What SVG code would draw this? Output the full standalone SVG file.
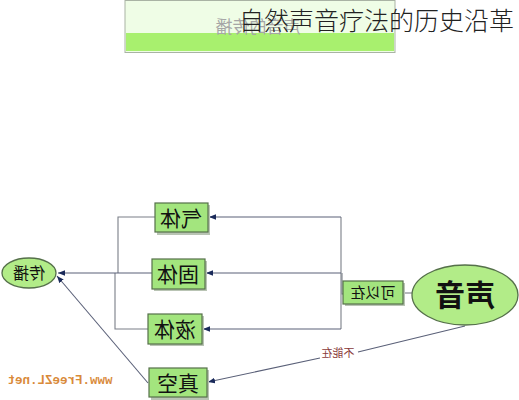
<svg xmlns="http://www.w3.org/2000/svg" width="519" height="400" viewBox="0 0 519 400">
<defs>
<marker id="arr" viewBox="0 0 10 10" refX="10" refY="5" markerWidth="7" markerHeight="7" orient="auto-start-reverse" markerUnits="userSpaceOnUse">
<path d="M0,1 L10,5 L0,9 z" fill="#1a2a5a"/>
</marker>
<style>
.box{fill:#a3e57e;stroke:#55704a;stroke-width:1.2}
.shadow{fill:#b9c4b4}
.ell{fill:#b2ec88;stroke:#55704a;stroke-width:1.3}
.lbl{font-family:"Noto Sans CJK SC","Noto Sans",sans-serif;fill:#111;text-anchor:middle}
.ln{stroke:#7a7f88;stroke-width:1.1;fill:none}
.ar{stroke:#5a6078;stroke-width:1.1;fill:none;marker-end:url(#arr)}
</style>
</defs>
<rect width="519" height="400" fill="#ffffff"/>
<g id="banner">
<rect x="125" y="0.5" width="270" height="52" fill="#effde6" stroke="#a9b3a4" stroke-width="1"/>
<rect x="126" y="33" width="268" height="18" fill="#a8f06e"/>
<text class="lbl" x="258" y="33" font-size="17" style="fill:#a6a6a6" transform="matrix(-1 0 0 1 516 0)">声音的传播</text>
</g>
<g id="title">
<text x="239" y="30" font-family="'Noto Sans CJK SC','Noto Sans',sans-serif" font-size="25" font-weight="300" fill="#222">自然声音疗法的历史沿革</text>
</g>
<g id="connectors">
<path class="ln" d="M341,217 V329"/>
<path class="ar" d="M341,217 H209"/>
<path class="ar" d="M341,273 H206"/>
<path class="ar" d="M341,329 H203"/>
<path class="ln" d="M342,273 V294 H343"/>
<path class="ln" d="M403,293 H413"/>
<path class="ln" d="M155,217 H118 V273"/>
<path class="ln" d="M148,329 H115 V273"/>
<path class="ar" d="M152,273 H58"/>
<path class="ar" d="M148,383 L57,276"/>
<path class="ar" d="M465,326 L358,352 M320,358 L208,382"/>
<text x="338" y="357" font-family="'Noto Sans CJK SC',sans-serif" font-size="11" fill="#8a3a3a" text-anchor="middle" transform="matrix(-1 0 0 1 676 0)">不能在</text>
</g>
<g id="n-qiti">
<rect class="shadow" x="157" y="205" width="53" height="30"/>
<rect class="box" x="155" y="203" width="53" height="29"/>
<text class="lbl" x="181" y="226" font-size="21" transform="matrix(-1 0 0 1 362 0)">气体</text>
</g>
<g id="n-guti">
<rect class="shadow" x="154" y="261" width="53" height="30"/>
<rect class="box" x="152" y="259" width="53" height="30"/>
<text class="lbl" x="178" y="282" font-size="21" transform="matrix(-1 0 0 1 356 0)">固体</text>
</g>
<g id="n-yeti">
<rect class="shadow" x="150" y="316" width="54" height="30"/>
<rect class="box" x="148" y="314" width="54" height="30"/>
<text class="lbl" x="175" y="337" font-size="21" transform="matrix(-1 0 0 1 350 0)">液体</text>
</g>
<g id="n-zhenkong">
<rect class="shadow" x="151" y="370" width="58" height="30"/>
<rect class="box" x="149" y="368" width="58" height="29"/>
<text class="lbl" x="178" y="391" font-size="21" transform="matrix(-1 0 0 1 356 0)">真空</text>
</g>
<g id="n-chuanbo">
<ellipse class="ell" cx="29" cy="273" rx="27" ry="15"/>
<text class="lbl" x="29" y="279" font-size="16" transform="matrix(-1 0 0 1 58 0)">传播</text>
</g>
<g id="n-keyizai">
<rect class="shadow" x="345" y="283" width="60" height="23"/>
<rect class="box" x="343" y="281" width="60" height="23"/>
<text class="lbl" x="373" y="298" font-size="15" transform="matrix(-1 0 0 1 746 0)">可以在</text>
</g>
<g id="n-shengyin">
<ellipse class="ell" cx="465" cy="295" rx="53" ry="30"/>
<text class="lbl" x="465" y="306" font-size="30" font-weight="bold" transform="matrix(-1 0 0 1 930 0)">声音</text>
</g>
<g id="watermark">
<text x="60" y="384" font-family="'Liberation Mono',monospace" font-size="12.5" font-weight="bold" fill="#d98a3a" text-anchor="middle" transform="matrix(-1 0 0 1 120 0)">www.FreeZL.net</text>
</g>
</svg>
